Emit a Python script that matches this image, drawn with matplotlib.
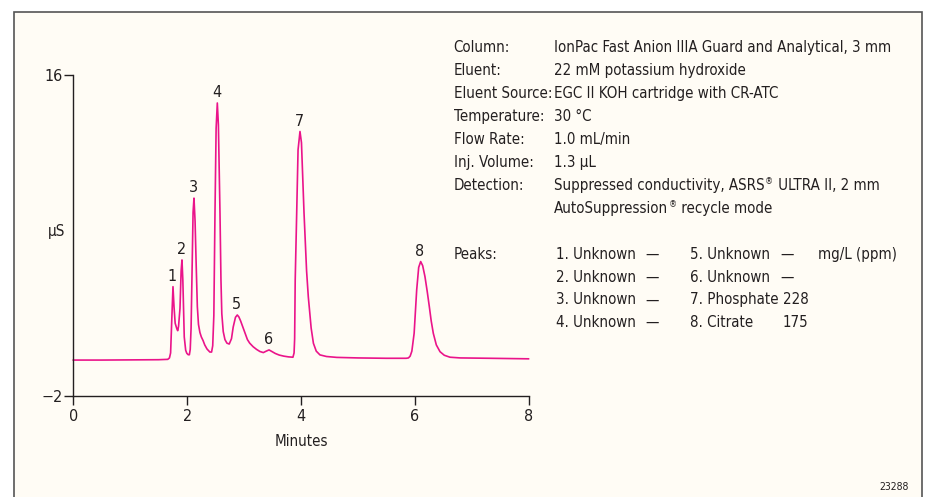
import matplotlib
matplotlib.use("Agg")
import matplotlib.pyplot as plt
from matplotlib.patches import Rectangle
import numpy as np

plt.rcParams['font.family'] = ['DejaVu Sans']
plt.rcParams['font.stretch'] = 'condensed'

# chromatogram trace (time in min, signal in uS)
trace_t = [0.00, 0.50, 1.00, 1.50, 1.66, 1.69, 1.71, 1.73, 1.752, 1.77, 1.79, 1.82, 1.835,
           1.85, 1.875, 1.895, 1.91, 1.925, 1.95, 1.975, 1.995, 2.02, 2.04, 2.055, 2.07,
           2.09, 2.105, 2.121, 2.14, 2.16, 2.18, 2.20, 2.225, 2.25, 2.28, 2.31, 2.35, 2.40,
           2.43, 2.45, 2.47, 2.49, 2.51, 2.531, 2.55, 2.578, 2.595, 2.61, 2.635, 2.665, 2.70,
           2.74, 2.78, 2.81, 2.85, 2.882, 2.91, 2.94, 2.98, 3.02, 3.06, 3.10, 3.16, 3.22,
           3.28, 3.34, 3.39, 3.44, 3.49, 3.55, 3.62, 3.70, 3.78, 3.86, 3.88, 3.89, 3.90,
           3.926, 3.95, 3.984, 4.01, 4.055, 4.10, 4.13, 4.18, 4.22, 4.27, 4.335, 4.45, 4.63,
           5.00, 5.50, 5.85, 5.89, 5.92, 5.95, 5.99, 6.035, 6.07, 6.105, 6.14, 6.18, 6.22,
           6.257, 6.29, 6.327, 6.38, 6.445, 6.52, 6.62, 6.80, 7.32, 8.00]
trace_v = [0.00, 0.00, 0.01, 0.02, 0.04, 0.12, 0.40, 2.20, 4.12, 3.00, 2.07, 1.75, 1.65,
           1.90, 2.90, 5.00, 5.62, 4.50, 1.30, 0.55, 0.38, 0.30, 0.30, 0.60, 1.80,
           5.50, 8.30, 9.09, 7.80, 5.30, 3.00, 2.00, 1.55, 1.30, 1.10, 0.85, 0.62, 0.45,
           0.45, 0.80, 2.50, 8.25, 13.0, 14.43, 13.2, 8.25, 4.50, 2.60, 1.60, 1.15, 0.95,
           0.90, 1.20, 1.85, 2.40, 2.53, 2.42, 2.20, 1.85, 1.50, 1.15, 0.95, 0.75, 0.60,
           0.48, 0.42, 0.50, 0.57, 0.48, 0.37, 0.28, 0.22, 0.18, 0.16, 0.40, 1.20, 4.50,
           8.25, 11.8, 12.83, 12.2, 8.25, 5.00, 3.56, 1.80, 0.94, 0.50, 0.29, 0.20, 0.15,
           0.12, 0.10, 0.10, 0.12, 0.22, 0.50, 1.50, 3.94, 5.20, 5.53, 5.30, 4.69, 3.85,
           3.00, 2.20, 1.50, 0.85, 0.47, 0.27, 0.16, 0.12, 0.10, 0.07]

peak_nums = ["1", "2", "3", "4", "5", "6", "7", "8"]
peak_times = [1.752, 1.91, 2.121, 2.531, 2.882, 3.44, 3.984, 6.105]

info_labels = ["Column:", "Eluent:", "Eluent Source:", "Temperature:", "Flow Rate:",
               "Inj. Volume:", "Detection:", ""]
info_values = ["IonPac Fast Anion IIIA Guard and Analytical, 3 mm",
               "22 mM potassium hydroxide",
               "EGC II KOH cartridge with CR-ATC",
               "30 \u00b0C",
               "1.0 mL/min",
               "1.3 \u03bcL",
               "Suppressed conductivity, ASRS\u00ae ULTRA II, 2 mm",
               "AutoSuppression\u00ae recycle mode"]

peaks_col1 = ["1. Unknown", "2. Unknown", "3. Unknown", "4. Unknown"]
conc_col1 = ["\u2014", "\u2014", "\u2014", "\u2014"]
peaks_col2 = ["5. Unknown", "6. Unknown", "7. Phosphate", "8. Citrate"]
conc_col2 = ["\u2014", "\u2014", "228", "175"]

W, H = 925, 497
bg = "#fffcf5"
ink = "#231f20"
pink = "#ea148a"

fig = plt.figure(figsize=(W / 100, H / 100), dpi=100)
fig.patch.set_facecolor("white")
renderer = fig.canvas.get_renderer()


def fx(px):
    return px / W


def fy(py):
    return 1 - py / H


def put_text(x, y, s, fs):
    # writes s with its baseline at pixel row y; any (R) sign is set small and raised
    parts = s.split("\u00ae")
    for j, part in enumerate(parts):
        if part:
            t = fig.text(fx(x), fy(y), part, fontsize=fs, color=ink, va="baseline", ha="left")
            x += t.get_window_extent(renderer).width
        if j < len(parts) - 1:
            t = fig.text(fx(x + 0.5), fy(y - 6), "\u00ae", fontsize=fs * 0.6, color=ink,
                         va="baseline", ha="left")
            x += t.get_window_extent(renderer).width + 1


# cream panel with grey frame
fig.patches.append(Rectangle((fx(14), fy(505)), fx(922) - fx(14), fy(12) - fy(505),
                             transform=fig.transFigure, facecolor=bg, edgecolor="#555555",
                             lw=1.2, zorder=-10))

ax = fig.add_axes([fx(73.3), fy(395.7), fx(528.5) - fx(73.3), fy(75) - fy(395.7)])
ax.set_zorder(5)
ax.set_facecolor("none")
ax.plot(trace_t, trace_v, color=pink, lw=1.2, clip_on=False)
ax.set_xlim(0, 8)
ax.set_ylim(-2, 16)
ax.set_xticks([0, 2, 4, 6, 8])
ax.set_yticks([-2, 16])
ax.set_yticklabels(["\u22122", "16"])
for s in ["top", "right"]:
    ax.spines[s].set_visible(False)
for s in ["left", "bottom"]:
    ax.spines[s].set_color(ink)
    ax.spines[s].set_linewidth(1.0)
ax.tick_params(axis="both", colors=ink, labelcolor=ink, labelsize=11.5, length=6.5, width=1.0)
ax.tick_params(axis="x", pad=3)
ax.tick_params(axis="y", pad=1)
ax.set_xlabel("Minutes", fontsize=10.8, color=ink, labelpad=7)
ax.text(-0.15, 7.2, "\u03bcS", fontsize=11, color=ink, ha="right", va="center",
        transform=ax.transData, clip_on=False)

tt = np.array(trace_t)
vv = np.array(trace_v)
for num, pt in zip(peak_nums, peak_times):
    i = np.argmin(np.abs(tt - pt))
    ax.annotate(num, (tt[i], vv[i]), xytext=(-0.5, 2), textcoords="offset points",
                ha="center", va="bottom", fontsize=11.5, color=ink)

# conditions block
fs = 10.8
for k, (lab, val) in enumerate(zip(info_labels, info_values)):
    y = 52 + k * 23.0
    put_text(453.5, y, lab, fs)
    put_text(554, y, val, fs)

put_text(453.5, 259, "Peaks:", fs)
for k in range(4):
    y = 259 + k * 22.7
    put_text(556.5, y, peaks_col1[k], fs)
    put_text(645.5, y, conc_col1[k], fs)
    put_text(689.5, y, peaks_col2[k], fs)
    put_text(780 if conc_col2[k] == "\u2014" else 783, y, conc_col2[k], fs)
put_text(818, 259, "mg/L (ppm)", fs)

fig.text(fx(908.5), fy(487.5), "23288", fontsize=7.5, color=ink, va="center", ha="right")

fig.savefig("out.png", dpi=100, facecolor="white")
